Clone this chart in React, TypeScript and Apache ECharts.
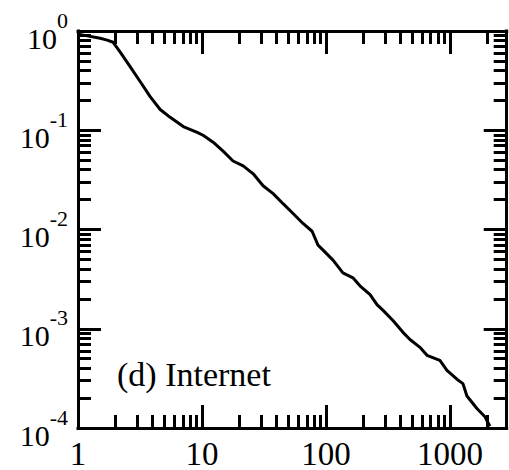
import React, { useEffect, useRef } from "react";
import * as echarts from "echarts";

// Cumulative degree distribution, (d) Internet
const DEGREE = [1, 1.51, 1.72, 1.92, 2.19, 2.64, 3.18, 3.82, 4.6, 5.54, 7.06, 9.15, 10.2, 12.3, 14.8, 17.8, 21.5, 25.9, 31.1, 37.5, 45.1, 54.3, 65.3, 77.3, 86.3, 94.8, 114, 137, 165, 188, 227, 258, 289, 347, 418, 476, 573, 653, 830, 946, 1138, 1273, 1371, 1651, 1916, 2100];
const CUMULATIVE = [0.93, 0.845, 0.81, 0.77, 0.613, 0.435, 0.308, 0.218, 0.162, 0.135, 0.109, 0.0952, 0.089, 0.0759, 0.0617, 0.049, 0.0437, 0.0364, 0.0276, 0.023, 0.0182, 0.0145, 0.0115, 0.0096, 0.00695, 0.0062, 0.00492, 0.00365, 0.00326, 0.00271, 0.00221, 0.00175, 0.00153, 0.00121, 0.00092, 0.00078, 0.00065, 0.00054, 0.00048, 0.00038, 0.00031, 0.00028, 0.00021, 0.000157, 0.00013, 0.000104];

const X_MAJOR = [1, 10, 100, 1000];
const Y_MAJOR = [0.0001, 0.001, 0.01, 0.1, 1];
const X_RANGE = [1, 2870];
const Y_RANGE = [0.0001, 1];
const LABEL = "(d) Internet";

const FONT = '"Liberation Serif", "Times New Roman", serif';
const BLACK = "#000";

function minorValues(lo: number, hi: number): number[] {
  const out: number[] = [];
  for (let d = Math.floor(Math.log10(lo)); d <= Math.ceil(Math.log10(hi)); d++) {
    for (let m = 2; m <= 9; m++) {
      const v = m * Math.pow(10, d);
      if (v > lo && v < hi) out.push(v);
    }
  }
  return out;
}

export default function App() {
  const ref = useRef<HTMLDivElement>(null);
  useEffect(() => {
    if (!ref.current) return;
    const chart = echarts.init(ref.current, undefined, { renderer: "svg" });

    const lxMin = Math.log10(X_RANGE[0]);
    const lxMax = Math.log10(X_RANGE[1]);
    const lyMin = Math.log10(Y_RANGE[0]);
    const lyMax = Math.log10(Y_RANGE[1]);
    const xMajorLog = X_MAJOR.map(Math.log10);
    const yMajorLog = Y_MAJOR.map((v) => Math.round(Math.log10(v)));
    const xMinorLog = minorValues(X_RANGE[0], X_RANGE[1]).map(Math.log10);
    const yMinorLog = minorValues(Y_RANGE[0], Y_RANGE[1]).map(Math.log10);

    const frame = (position: string, min: number, max: number) => ({
      type: "log",
      logBase: 10,
      min,
      max,
      position,
      axisLine: { show: true, onZero: false, lineStyle: { color: BLACK, width: 3, cap: "square" } },
      axisTick: { show: false },
      axisLabel: { show: false },
      splitLine: { show: false },
    });

    const ticks = (
      position: string,
      min: number,
      max: number,
      values: number[],
      len: number,
      label?: any
    ) => ({
      type: "value",
      min,
      max,
      position,
      axisLine: { show: false, onZero: false },
      axisTick: {
        show: true,
        inside: true,
        length: len,
        customValues: values,
        lineStyle: { color: BLACK, width: 3 },
      },
      axisLabel: label ? { show: true, customValues: values, ...label } : { show: false },
      splitLine: { show: false },
    });

    const xLabel = {
      margin: 9,
      fontSize: 33,
      fontFamily: FONT,
      color: BLACK,
      formatter: (v: number) => String(Math.round(Math.pow(10, v))),
    };
    const yLabel = {
      margin: 10,
      formatter: (v: number) => `{b|10}{s|${Math.round(v)}}`,
      rich: {
        b: { fontSize: 30, fontFamily: FONT, color: BLACK, lineHeight: 30, padding: [14, 0, 0, 0] },
        s: { fontSize: 22, fontFamily: FONT, color: BLACK, lineHeight: 22, padding: [0, 0, 22, 0] },
      },
    };

    chart.setOption({
      animation: false,
      backgroundColor: "#fff",
      grid: { left: 78, right: 2.3, top: 31, bottom: 38.3, containLabel: false },
      xAxis: [
        frame("bottom", X_RANGE[0], X_RANGE[1]),
        frame("top", X_RANGE[0], X_RANGE[1]),
        ticks("bottom", lxMin, lxMax, xMajorLog, 23, xLabel),
        ticks("bottom", lxMin, lxMax, xMinorLog, 13),
        ticks("top", lxMin, lxMax, xMajorLog, 23),
        ticks("top", lxMin, lxMax, xMinorLog, 13),
      ],
      yAxis: [
        frame("left", Y_RANGE[0], Y_RANGE[1]),
        frame("right", Y_RANGE[0], Y_RANGE[1]),
        ticks("left", lyMin, lyMax, yMajorLog, 23, yLabel),
        ticks("left", lyMin, lyMax, yMinorLog, 13),
        ticks("right", lyMin, lyMax, yMajorLog, 23),
        ticks("right", lyMin, lyMax, yMinorLog, 13),
      ],
      graphic: [
        {
          type: "text",
          left: 117,
          top: 357,
          style: { text: LABEL, fontSize: 34, fontFamily: FONT, fill: BLACK },
        },
      ],
      series: [
        {
          type: "line",
          xAxisIndex: 0,
          yAxisIndex: 0,
          data: DEGREE.map((k, i) => [k, CUMULATIVE[i]]),
          showSymbol: false,
          symbol: "none",
          lineStyle: { color: BLACK, width: 3 },
          clip: true,
        },
      ],
    });
    return () => chart.dispose();
  }, []);
  return (
    <div
      ref={ref}
      style={{ position: "fixed", left: 0, top: 0, width: 509, height: 470, background: "#fff" }}
    />
  );
}
